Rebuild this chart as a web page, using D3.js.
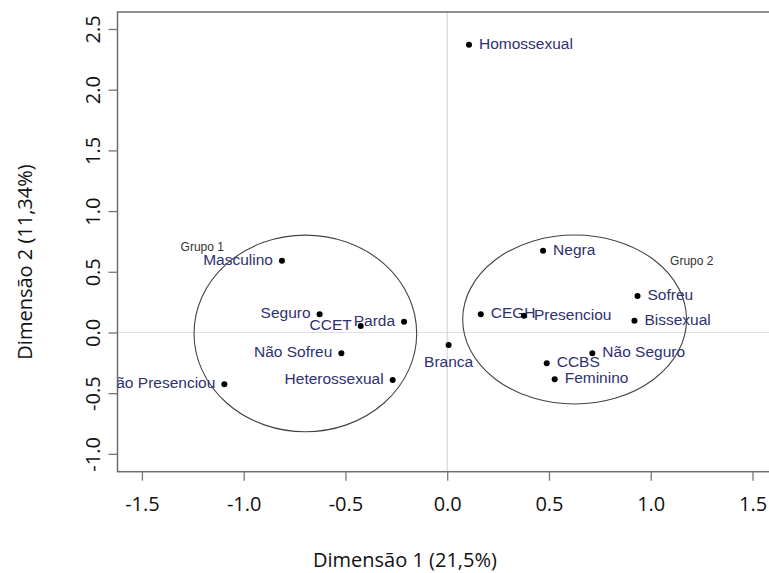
<!DOCTYPE html>
<html>
<head>
<meta charset="utf-8">
<script src="https://cdn.jsdelivr.net/npm/d3@7"></script>
<style>
  html, body { margin: 0; padding: 0; background: #fff; }
  svg { display: block; }
</style>
</head>
<body>
<svg id="chart" width="769" height="573"></svg>
<script>
/* ── Data: correspondence analysis, dims 1 & 2 ── */
const categories = ['Homossexual', 'Masculino', 'Seguro', 'CCET', 'Parda', 'Não Sofreu',
  'Heterossexual', 'Não Presenciou', 'Branca', 'Negra', 'Sofreu', 'Bissexual',
  'CEGH', 'Presenciou', 'Não Seguro', 'CCBS', 'Feminino'];
const dim1 = [0.107, -0.812, -0.627, -0.425, -0.212, -0.52, -0.268, -1.095, 0.007,
  0.471, 0.935, 0.92, 0.165, 0.377, 0.713, 0.489, 0.528];
const dim2 = [2.37, 0.59, 0.15, 0.054, 0.089, -0.171, -0.391, -0.427, -0.103,
  0.674, 0.30, 0.097, 0.15, 0.138, -0.171, -0.254, -0.386];

const groups   = ['Grupo 1', 'Grupo 2'];
const groupCx  = [-0.697, 0.626];
const groupCy  = [-0.008, 0.107];
const groupRx  = [0.547, 0.55];
const groupRy  = [0.81, 0.696];
const groupLx  = [-1.31, 1.095];
const groupLy  = [0.70, 0.583];

const xTicks = [-1.5, -1.0, -0.5, 0.0, 0.5, 1.0, 1.5];
const yTicks = [-1.0, -0.5, 0.0, 0.5, 1.0, 1.5, 2.0, 2.5];

/* label side per point (left of dot, right of dot, or below) */
const leftSide  = new Set(['Masculino', 'Seguro', 'CCET', 'Parda', 'Não Sofreu', 'Heterossexual', 'Não Presenciou']);
const belowSide = new Set(['Branca']);

const LABEL_COLOR = '#2f3170';
const TICK_FONT   = '"Open Sans", sans-serif';
const PT_FONT     = '"Liberation Sans", Arial, sans-serif';
const fmt = v => v.toFixed(1);   // plain hyphen minus, like R

const svg = d3.select('#chart');

const x = d3.scaleLinear().domain([-1.62, 1.64]).range([117.5, 781]);
const y = d3.scaleLinear().domain([-1.147, 2.64]).range([471.7, 12]);

/* clip to plot region (R clips text to the plot box) */
svg.append('defs').append('clipPath').attr('id', 'plotClip')
  .append('rect')
  .attr('x', x(-1.62)).attr('y', y(2.64))
  .attr('width', x(1.64) - x(-1.62))
  .attr('height', y(-1.147) - y(2.64));

/* ── Zero lines ── */
svg.append('line')
  .attr('x1', x(-1.62)).attr('x2', x(1.64))
  .attr('y1', y(0)).attr('y2', y(0))
  .attr('stroke', '#e4dbe4').attr('stroke-width', 1);
svg.append('line')
  .attr('x1', x(0)).attr('x2', x(0))
  .attr('y1', y(2.64)).attr('y2', y(-1.147))
  .attr('stroke', '#cfcfcf').attr('stroke-width', 1);

/* ── Plot box ── */
svg.append('rect')
  .attr('x', x(-1.62)).attr('y', y(2.64))
  .attr('width', x(1.64) - x(-1.62))
  .attr('height', y(-1.147) - y(2.64))
  .attr('fill', 'none')
  .attr('stroke', '#6b6b6b')
  .attr('stroke-width', 1.5);

/* ── X axis ── */
svg.append('g')
  .attr('transform', `translate(0,${y(-1.147)})`)
  .call(d3.axisBottom(x).tickValues(xTicks).tickFormat(fmt).tickSize(9).tickPadding(16))
  .call(ax => ax.select('.domain').remove())
  .call(ax => ax.selectAll('.tick line').attr('stroke', '#777').attr('stroke-width', 1.3))
  .call(ax => ax.selectAll('.tick text')
    .attr('fill', '#111')
    .attr('font-size', 20)
    .attr('font-family', TICK_FONT));

/* ── Y axis (rotated labels) ── */
const yAxis = svg.append('g')
  .attr('transform', `translate(${x(-1.62)},0)`)
  .call(d3.axisLeft(y).tickValues(yTicks).tickFormat(fmt).tickSize(9))
  .call(ax => ax.select('.domain').remove())
  .call(ax => ax.selectAll('.tick line').attr('stroke', '#777').attr('stroke-width', 1.3));
yAxis.selectAll('.tick text')
  .attr('x', 0).attr('dy', null)
  .attr('transform', 'translate(-17.5,0) rotate(-90)')
  .attr('text-anchor', 'middle')
  .attr('fill', '#111')
  .attr('font-size', 20)
  .attr('font-family', TICK_FONT);

/* ── Axis titles ── */
svg.append('text')
  .attr('x', 313).attr('y', 567)
  .attr('fill', '#111')
  .attr('font-size', 20)
  .attr('font-family', TICK_FONT)
  .text('Dimensão 1 (21,5%)');

svg.append('text')
  .attr('transform', 'translate(32,262) rotate(-90)')
  .attr('text-anchor', 'middle')
  .attr('fill', '#111')
  .attr('font-size', 20)
  .attr('font-family', TICK_FONT)
  .text('Dimensão 2 (11,34%)');

const plot = svg.append('g').attr('clip-path', 'url(#plotClip)');

/* ── Group ellipses ── */
groups.forEach((name, i) => {
  plot.append('ellipse')
    .attr('cx', x(groupCx[i])).attr('cy', y(groupCy[i]))
    .attr('rx', x(groupRx[i]) - x(0))
    .attr('ry', y(0) - y(groupRy[i]))
    .attr('fill', 'none')
    .attr('stroke', '#444')
    .attr('stroke-width', 1.1);

  plot.append('text')
    .attr('x', x(groupLx[i])).attr('y', y(groupLy[i]))
    .attr('dominant-baseline', 'middle')
    .attr('fill', '#333')
    .attr('font-size', 12)
    .attr('font-family', PT_FONT)
    .text(name);
});

/* ── Points + labels ── */
categories.forEach((name, i) => {
  const px = x(dim1[i]);
  const py = y(dim2[i]);

  plot.append('circle')
    .attr('cx', px).attr('cy', py).attr('r', 3)
    .attr('fill', '#000');

  const t = plot.append('text')
    .attr('fill', LABEL_COLOR)
    .attr('font-size', 15.5)
    .attr('font-family', PT_FONT)
    .attr('dominant-baseline', 'middle')
    .text(name);

  if (belowSide.has(name)) {
    t.attr('x', px).attr('y', py + 18).attr('text-anchor', 'middle');
  } else if (leftSide.has(name)) {
    t.attr('x', px - 9).attr('y', py).attr('text-anchor', 'end');
  } else {
    t.attr('x', px + 10).attr('y', py).attr('text-anchor', 'start');
  }
});
</script>
</body>
</html>
